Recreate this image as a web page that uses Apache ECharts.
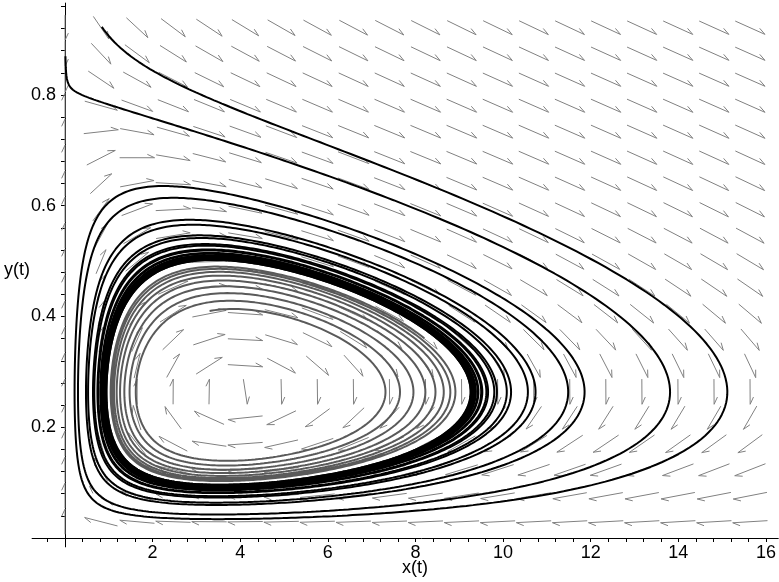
<!DOCTYPE html>
<html>
<head>
<meta charset="utf-8">
<script src="https://cdn.jsdelivr.net/npm/echarts@6/dist/echarts.min.js"></script>
<style>html,body{margin:0;padding:0;background:#fff}#main{width:779px;height:582px}</style>
</head>
<body>
<div id="main"></div>
<script>
// prey y(t) grows logistically up to PREY_CAPACITY, predator x(t) eats it
const PREY_CAPACITY = 0.8
const MODEL_PARAMS = [0.1716, 0.07085, 1.165, 1.064, 7.542, 1.498]
// starting points of the drawn solution curves
const BLACK_STARTS = [[0.84, 0.923], [0.01, 0.87]]
const GRAY_START = [3.3, 0.41]
const BLACK_TIME = 110
const GRAY_TIME = 62
// direction field grid
const ARROW_COLS = [0, 0.823, 1.646, 2.469, 3.292, 4.115, 4.938, 5.761, 6.584, 7.407, 8.23, 9.053, 9.876, 10.699, 11.522, 12.345, 13.168, 13.991, 14.814, 15.637]
const ARROW_ROWS = [0.0294, 0.0764, 0.1233, 0.1703, 0.2172, 0.2642, 0.3111, 0.3581, 0.405, 0.452, 0.4989, 0.5459, 0.5928, 0.6398, 0.6867, 0.7337, 0.7806, 0.8276, 0.8745, 0.9215]
const X_LABELS = [2, 4, 6, 8, 10, 12, 14, 16]
const Y_LABELS = [0.2, 0.4, 0.6, 0.8]
const X_TICKS = [0.4, 0.8, 1.2, 1.6, 2, 2.4, 2.8, 3.2, 3.6, 4, 4.4, 4.8, 5.2, 5.6, 6, 6.4, 6.8, 7.2, 7.6, 8, 8.4, 8.8, 9.2, 9.6, 10, 10.4, 10.8, 11.2, 11.6, 12, 12.4, 12.8, 13.2, 13.6, 14, 14.4, 14.8, 15.2, 15.6, 16]
const Y_TICKS = [0.04, 0.08, 0.12, 0.16, 0.2, 0.24, 0.28, 0.32, 0.36, 0.4, 0.44, 0.48, 0.52, 0.56, 0.6, 0.64, 0.68, 0.72, 0.76, 0.8, 0.84, 0.88, 0.92, 0.96]

function rhs (x, y) {
  const p = MODEL_PARAMS
  const yh = Math.pow(y, p[2])
  const eat = p[1] * yh / (Math.pow(p[0], p[2]) + yh)
  const grow = p[4] * y / (p[3] + y) - p[5]
  return [x * grow, y * (1 - y / PREY_CAPACITY) - x * eat]
}

function rk4 (x, y, h) {
  const k1 = rhs(x, y)
  const k2 = rhs(x + h / 2 * k1[0], y + h / 2 * k1[1])
  const k3 = rhs(x + h / 2 * k2[0], y + h / 2 * k2[1])
  const k4 = rhs(x + h * k3[0], y + h * k3[1])
  return [x + h / 6 * (k1[0] + 2 * k2[0] + 2 * k3[0] + k4[0]), y + h / 6 * (k1[1] + 2 * k2[1] + 2 * k3[1] + k4[1])]
}

function orbit (start, tmax) {
  let x = start[0], y = start[1]
  const pts = [[x, y]]
  const dt = 0.005
  let i = 0
  for (let t = 0; t < tmax; t += dt) {
    const r = rk4(x, y, dt)
    x = r[0]; y = r[1]
    if (++i % 3 === 0) pts.push([x, y])
  }
  return pts
}

const chart = echarts.init(document.getElementById('main'))
const axisFont = { fontSize: 18, color: '#000', fontFamily: 'Liberation Sans, Arial, sans-serif' }
const black = { color: '#000', width: 1 }

var option = {
  animation: false,
  grid: [
    { left: 65, right: 0.1, top: 3.07, bottom: 44 },
    // short pieces of the axes on the other side of the origin
    { left: 32.1, width: 32.9, top: 3.07, bottom: 44 },
    { left: 65, width: 50, top: 538, height: 8.86 }
  ],
  xAxis: [
    {
      type: 'value', min: 0, max: 16.28, gridIndex: 0, splitLine: { show: false },
      axisLine: { onZero: false, lineStyle: black },
      axisTick: { customValues: X_TICKS, length: 4, lineStyle: black },
      axisLabel: Object.assign({ customValues: X_LABELS, margin: 6 }, axisFont)
    },
    {
      type: 'value', min: -0.75, max: 0, gridIndex: 1, splitLine: { show: false },
      axisLine: { onZero: false, lineStyle: black },
      axisTick: { customValues: [-0.4], length: 4, lineStyle: black },
      axisLabel: { show: false }
    },
    { type: 'value', min: 0, max: 1, gridIndex: 2, show: false }
  ],
  yAxis: [
    {
      type: 'value', min: 0, max: 0.966, gridIndex: 0, splitLine: { show: false },
      axisLine: { onZero: false, lineStyle: black },
      axisTick: { customValues: Y_TICKS, length: 4, lineStyle: black },
      axisLabel: Object.assign({ customValues: Y_LABELS, margin: 9 }, axisFont)
    },
    { type: 'value', min: 0, max: 1, gridIndex: 1, show: false },
    {
      type: 'value', min: -0.016, max: 0, gridIndex: 2, splitLine: { show: false },
      axisLine: { onZero: false, lineStyle: black }, axisTick: { show: false }, axisLabel: { show: false }
    }
  ],
  graphic: [
    { type: 'text', x: 402, y: 559, style: Object.assign({ text: 'x(t)' }, axisFont, { fill: '#000' }) },
    { type: 'text', x: 4, y: 261, style: Object.assign({ text: 'y(t)' }, axisFont, { fill: '#000' }) }
  ],
  series: [
    {
      // direction field: one harpoon arrow per grid point
      type: 'custom',
      data: ARROW_COLS.flatMap(x => ARROW_ROWS.map(y => [x, y])),
      renderItem: (params, api) => {
        const x = api.value(0), y = api.value(1)
        const v = rhs(x, y)
        const gx = v[0] / 0.823, gy = v[1] / 0.04695
        const n = Math.hypot(gx, gy) || 1
        const c0 = api.coord([x, y])
        const c1 = api.coord([x + 0.823, y + 0.04695])
        const ux = gx / n * (c1[0] - c0[0]) * 0.97
        const uy = -gy / n * (c0[1] - c1[1]) * 0.97
        const tx = c0[0] + ux / 2, ty = c0[1] + uy / 2
        const phi = Math.atan2(-uy, ux) + 155 * Math.PI / 180
        return {
          type: 'group',
          children: [
            { type: 'line', shape: { x1: c0[0] - ux / 2, y1: c0[1] - uy / 2, x2: tx, y2: ty }, style: { stroke: '#808080', lineWidth: 1 } },
            { type: 'line', shape: { x1: tx, y1: ty, x2: tx + 8 * Math.cos(phi), y2: ty - 8 * Math.sin(phi) }, style: { stroke: '#808080', lineWidth: 1 } }
          ]
        }
      }
    },
    { type: 'line', data: orbit(GRAY_START, GRAY_TIME), showSymbol: false, lineStyle: { color: '#5a5a5a', width: 2 } },
    { type: 'line', data: orbit(BLACK_STARTS[0], BLACK_TIME), showSymbol: false, lineStyle: { color: '#000', width: 2 } },
    { type: 'line', data: orbit(BLACK_STARTS[1], BLACK_TIME), showSymbol: false, lineStyle: { color: '#000', width: 2 } }
  ]
}

chart.setOption(option)
</script>
</body>
</html>
